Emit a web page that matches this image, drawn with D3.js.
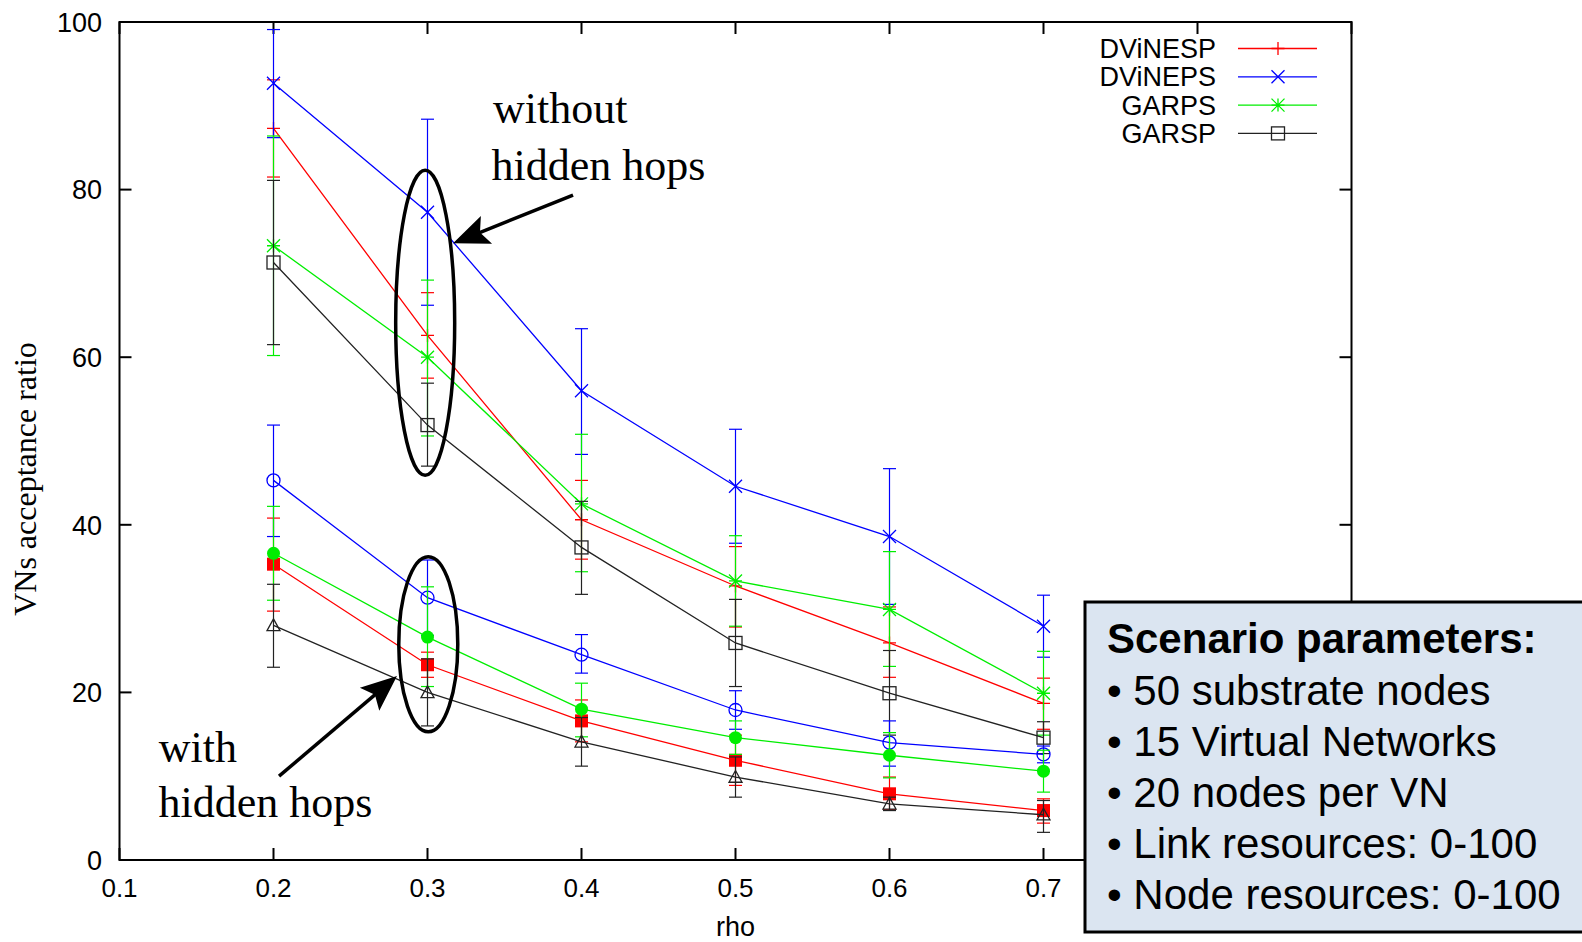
<!DOCTYPE html>
<html>
<head>
<meta charset="utf-8">
<script src="https://cdn.jsdelivr.net/npm/d3@7/dist/d3.min.js"></script>
<style>
  body { margin: 0; background: #fff; }
  svg { display: block; }
  .sans { font-family: "Liberation Sans", Arial, Helvetica, sans-serif; }
  .serif { font-family: "Liberation Serif", "Times New Roman", serif; }
</style>
</head>
<body>
<svg id="chart" width="1582" height="942"></svg>
<script>
// x values (rho) and axis ticks
var rho = [0.2, 0.3, 0.4, 0.5, 0.6, 0.7];
var xTicks = [0.1, 0.2, 0.3, 0.4, 0.5, 0.6, 0.7, 0.8, 0.9];
var yTicks = [0, 20, 40, 60, 80, 100];

// without hidden hops
var dvinesp   = [87.3, 62.6, 40.6, 32.7, 25.9, 18.7];
var dvinespLo = [81.5, 57.5, 35.9, 27.8, 21.8, 15.6];
var dvinespHi = [93.1, 67.7, 45.3, 37.4, 30.2, 21.7];

var dvineps   = [92.7, 77.3, 56.0, 44.6, 38.6, 27.9];
var dvinepsLo = [86.2, 66.2, 48.4, 37.8, 30.5, 24.2];
var dvinepsHi = [99.1, 88.4, 63.4, 51.4, 46.7, 31.6];

var garps   = [73.3, 60.0, 42.5, 33.3, 29.9, 19.9];
var garpsLo = [60.2, 50.6, 34.4, 27.9, 23.1, 14.9];
var garpsHi = [86.4, 69.2, 50.8, 38.7, 36.8, 24.9];

var garsp   = [71.3, 51.9, 37.3, 25.9, 19.9, 14.6];
var garspLo = [61.5, 47.0, 31.7, 20.7, 14.9, 12.7];
var garspHi = [81.1, 56.9, 42.8, 31.1, 25.0, 16.5];

// with hidden hops
var dvinespH   = [35.3, 23.3, 16.6, 11.9, 7.9, 5.9];
var dvinespHLo = [29.7, 21.8, 14.1, 8.9, 6.0, 4.4];
var dvinespHHi = [40.8, 24.8, 19.1, 14.9, 9.9, 7.3];

var dvinepsH   = [45.3, 31.3, 24.5, 17.9, 14.0, 12.6];
var dvinepsHLo = [38.6, 26.8, 22.3, 15.6, 11.2, 11.6];
var dvinepsHHi = [51.9, 35.8, 26.9, 20.2, 16.6, 13.6];

var garpsH   = [36.6, 26.6, 18.0, 14.6, 12.5, 10.6];
var garpsHLo = [31.0, 20.7, 14.7, 12.6, 9.8, 8.1];
var garpsHHi = [42.2, 32.6, 21.1, 16.6, 15.2, 13.1];

var garspH   = [28.0, 20.0, 14.1, 9.9, 6.7, 5.4];
var garspHLo = [23.0, 16.0, 11.2, 7.5, 5.9, 3.3];
var garspHHi = [32.9, 24.0, 17.0, 12.3, 7.5, 7.1];

var legendNames = ["DViNESP", "DViNEPS", "GARPS", "GARSP"];
var scenarioTitle = "Scenario parameters:";
var scenarioItems = ["50 substrate nodes", "15 Virtual Networks", "20 nodes per VN",
                     "Link resources: 0-100", "Node resources: 0-100"];

(function () {
function build(color, marker, mean, lo, hi, inLegend) {
  return { color: color, marker: marker, inLegend: inLegend,
           points: rho.map(function (r, i) { return { x: r, y: mean[i], lo: lo[i], hi: hi[i] }; }) };
}

var series = [
  build("#ff0000", "plus",     dvinesp, dvinespLo, dvinespHi, true),
  build("#0000ff", "cross",    dvineps, dvinepsLo, dvinepsHi, true),
  build("#00ee00", "star",     garps, garpsLo, garpsHi, true),
  build("#222222", "square",   garsp, garspLo, garspHi, true),
  build("#ff0000", "squareF",  dvinespH, dvinespHLo, dvinespHHi, false),
  build("#0000ff", "circle",   dvinepsH, dvinepsHLo, dvinepsHHi, false),
  build("#00ee00", "circleF",  garpsH, garpsHLo, garpsHHi, false),
  build("#222222", "triangle", garspH, garspHLo, garspHHi, false)
];

var svg = d3.select("#chart");
var pLeft = 119.5, pRight = 1351.5, pTop = 22, pBottom = 860;

var x = d3.scaleLinear().domain([0.1, 0.9]).range([pLeft, pRight]);
var y = d3.scaleLinear().domain([0, 100]).range([pBottom, pTop]);

svg.append("rect").attr("width", 1582).attr("height", 942).attr("fill", "#fff");

// ticks (inward, mirrored)
var tickLen = 12;
var axes = svg.append("g").attr("stroke", "#000").attr("stroke-width", 2);
xTicks.forEach(function (t) {
  axes.append("line").attr("x1", x(t)).attr("x2", x(t)).attr("y1", pBottom).attr("y2", pBottom - tickLen);
  axes.append("line").attr("x1", x(t)).attr("x2", x(t)).attr("y1", pTop).attr("y2", pTop + tickLen);
});
yTicks.forEach(function (t) {
  axes.append("line").attr("x1", pLeft).attr("x2", pLeft + tickLen).attr("y1", y(t)).attr("y2", y(t));
  axes.append("line").attr("x1", pRight).attr("x2", pRight - tickLen).attr("y1", y(t)).attr("y2", y(t));
});
axes.append("rect").attr("x", pLeft).attr("y", pTop).attr("width", pRight - pLeft).attr("height", pBottom - pTop)
  .attr("fill", "none");

svg.append("g").selectAll("text").data(xTicks).enter().append("text")
  .attr("class", "sans").attr("font-size", 26).attr("text-anchor", "middle")
  .attr("x", function (d) { return x(d); }).attr("y", 897)
  .text(function (d) { return d3.format(".1f")(d); });

svg.append("g").selectAll("text").data(yTicks).enter().append("text")
  .attr("class", "sans").attr("font-size", 27).attr("text-anchor", "end")
  .attr("x", 102).attr("y", function (d) { return y(d); }).attr("dy", "0.36em")
  .text(function (d) { return d; });

svg.append("text").attr("class", "sans").attr("font-size", 27).attr("text-anchor", "middle")
  .attr("x", x(0.5)).attr("y", 936).text("rho");

svg.append("text").attr("class", "serif").attr("font-size", 32).attr("text-anchor", "middle")
  .attr("transform", "translate(36," + ((pTop + pBottom) / 2 + 38) + ") rotate(-90)")
  .text("VNs acceptance ratio");

// markers
var ms = 6.5;
function drawMarker(g, type, color) {
  var s = ms;
  if (type === "plus") {
    g.append("path").attr("d", "M" + (-s) + ",0H" + s + "M0," + (-s) + "V" + s)
      .attr("stroke", color).attr("stroke-width", 1.3).attr("fill", "none");
  } else if (type === "cross") {
    g.append("path").attr("d", "M" + (-s) + "," + (-s) + "L" + s + "," + s + "M" + (-s) + "," + s + "L" + s + "," + (-s))
      .attr("stroke", color).attr("stroke-width", 1.3).attr("fill", "none");
  } else if (type === "star") {
    g.append("path").attr("d", "M" + (-s) + ",0H" + s + "M0," + (-s) + "V" + s +
      "M" + (-s) + "," + (-s) + "L" + s + "," + s + "M" + (-s) + "," + s + "L" + s + "," + (-s))
      .attr("stroke", color).attr("stroke-width", 1.3).attr("fill", "none");
  } else if (type === "square") {
    g.append("rect").attr("x", -s).attr("y", -s).attr("width", 2 * s).attr("height", 2 * s)
      .attr("stroke", color).attr("stroke-width", 1.3).attr("fill", "none");
  } else if (type === "squareF") {
    g.append("rect").attr("x", -s).attr("y", -s).attr("width", 2 * s).attr("height", 2 * s)
      .attr("fill", color);
  } else if (type === "circle") {
    g.append("circle").attr("r", s).attr("stroke", color).attr("stroke-width", 1.3).attr("fill", "none");
  } else if (type === "circleF") {
    g.append("circle").attr("r", s).attr("fill", color);
  } else if (type === "triangle") {
    g.append("path").attr("d", "M0," + (-s) + "L" + s + "," + (s * 0.8) + "H" + (-s) + "Z")
      .attr("stroke", color).attr("stroke-width", 1.3).attr("fill", "none");
  }
}

var line = d3.line().x(function (d) { return x(d.x); }).y(function (d) { return y(d.y); });
var cap = 6.5;

series.forEach(function (s) {
  var g = svg.append("g").attr("class", "series");
  var eb = g.append("g").attr("stroke", s.color).attr("stroke-width", 1.2).attr("fill", "none");
  s.points.forEach(function (p) {
    eb.append("line").attr("x1", x(p.x)).attr("x2", x(p.x)).attr("y1", y(p.lo)).attr("y2", y(p.hi));
    eb.append("line").attr("x1", x(p.x) - cap).attr("x2", x(p.x) + cap).attr("y1", y(p.lo)).attr("y2", y(p.lo));
    eb.append("line").attr("x1", x(p.x) - cap).attr("x2", x(p.x) + cap).attr("y1", y(p.hi)).attr("y2", y(p.hi));
  });
  g.append("path").datum(s.points).attr("d", line)
    .attr("stroke", s.color).attr("stroke-width", 1.3).attr("fill", "none");
  s.points.forEach(function (p) {
    var m = g.append("g").attr("transform", "translate(" + x(p.x) + "," + y(p.y) + ")");
    drawMarker(m, s.marker, s.color);
  });
});

// legend
var legend = svg.append("g");
series.filter(function (s) { return s.inLegend; }).forEach(function (s, i) {
  var ly = 48.5 + i * 28.3;
  legend.append("text").attr("class", "sans").attr("font-size", 27).attr("text-anchor", "end")
    .attr("x", 1216).attr("y", ly + 9.5).text(legendNames[i]);
  legend.append("line").attr("x1", 1238).attr("x2", 1317).attr("y1", ly).attr("y2", ly)
    .attr("stroke", s.color).attr("stroke-width", 1.3);
  var m = legend.append("g").attr("transform", "translate(1278," + ly + ")");
  drawMarker(m, s.marker, s.color);
});

// annotations (positions in data units)
var ann = svg.append("g");
function ellipse(cx, y0, y1, rx) {
  ann.append("ellipse").attr("cx", x(cx)).attr("cy", (y(y0) + y(y1)) / 2)
    .attr("rx", rx).attr("ry", Math.abs(y(y0) - y(y1)) / 2)
    .attr("fill", "none").attr("stroke", "#000").attr("stroke-width", 3.5);
}
ellipse(0.2985, 45.9, 82.3, 29.5);
ellipse(0.3005, 15.3, 36.2, 29.5);

function arrow(x0, y0, x1, y1) {
  var ax = x(x0), ay = y(y0), bx = x(x1), by = y(y1);
  var ang = Math.atan2(by - ay, bx - ax);
  var hl = 36, hw = 15;
  var baseX = bx - hl * Math.cos(ang), baseY = by - hl * Math.sin(ang);
  ann.append("line").attr("x1", ax).attr("y1", ay).attr("x2", baseX + 8 * Math.cos(ang)).attr("y2", baseY + 8 * Math.sin(ang))
    .attr("stroke", "#000").attr("stroke-width", 3.5);
  var px = -Math.sin(ang), py = Math.cos(ang);
  var notchX = bx - (hl - 7) * Math.cos(ang), notchY = by - (hl - 7) * Math.sin(ang);
  ann.append("path").attr("d",
    "M" + bx + "," + by +
    "L" + (baseX + hw * px) + "," + (baseY + hw * py) +
    "L" + notchX + "," + notchY +
    "L" + (baseX - hw * px) + "," + (baseY - hw * py) + "Z")
    .attr("fill", "#000");
}
arrow(0.3945, 79.35, 0.3166, 73.6);
arrow(0.2036, 10.0, 0.2802, 21.96);

function note(xv, yv, txt) {
  ann.append("text").attr("class", "serif").attr("font-size", 44)
    .attr("x", x(xv)).attr("y", y(yv)).text(txt);
}
note(0.3425, 87.9, "without");
note(0.3415, 81.2, "hidden hops");
note(0.1255, 11.7, "with");
note(0.1253, 5.1, "hidden hops");

// scenario box
var box = svg.append("g");
box.append("rect").attr("x", 1085).attr("y", 602).attr("width", 520).attr("height", 330)
  .attr("fill", "#dbe5f1").attr("stroke", "#000").attr("stroke-width", 3);
box.append("text").attr("class", "sans").attr("font-size", 42).attr("font-weight", "bold")
  .attr("x", 1107).attr("y", 653).text(scenarioTitle);
box.selectAll("text.item").data(scenarioItems).enter().append("text")
  .attr("class", "sans item").attr("font-size", 42)
  .attr("x", 1107).attr("y", function (d, i) { return 705 + i * 51.1; })
  .text(function (d) { return "\u2022 " + d; });
})();
</script>
</body>
</html>
